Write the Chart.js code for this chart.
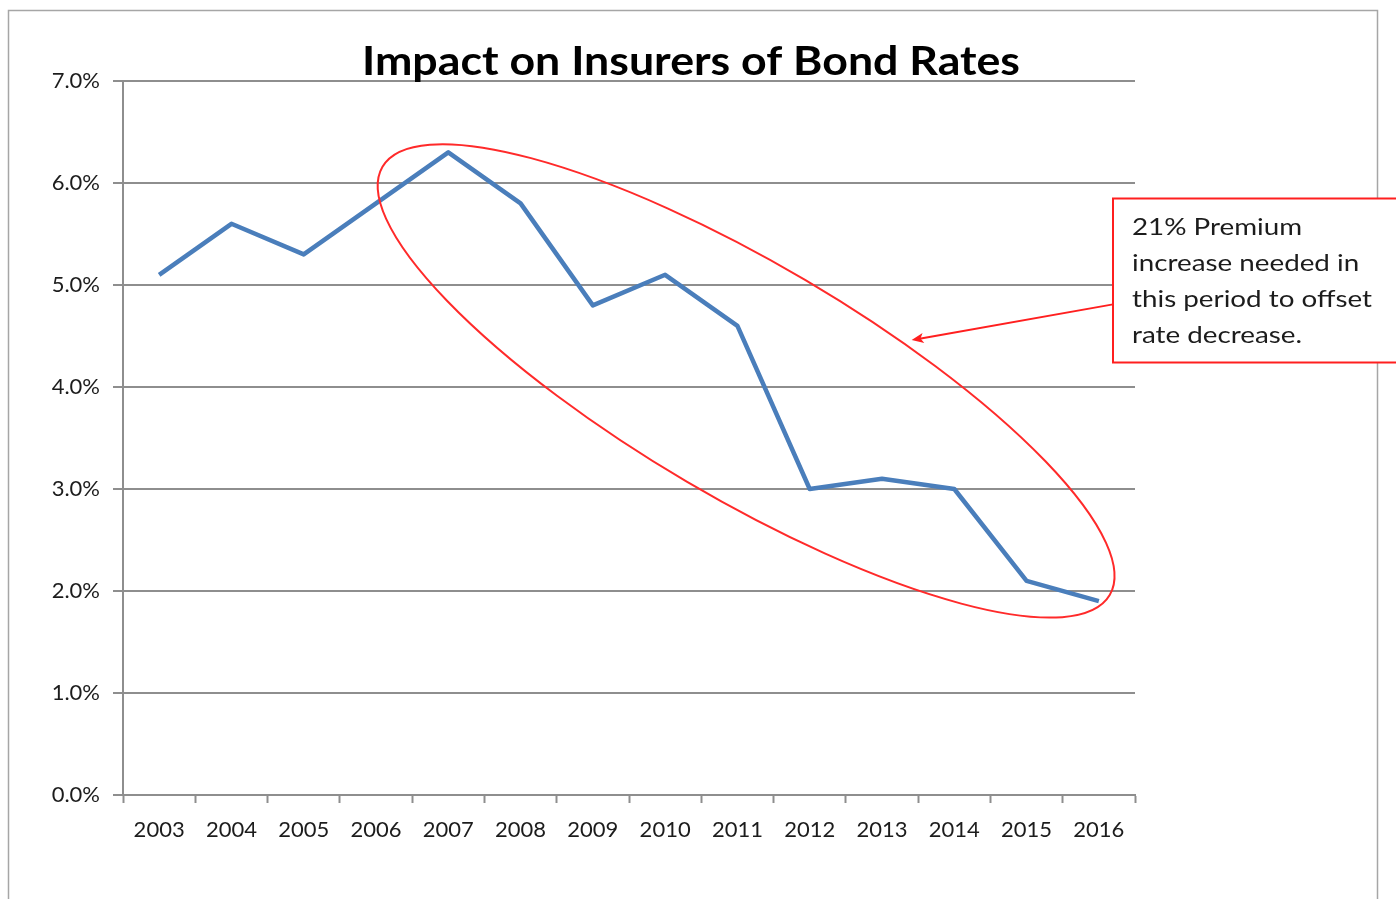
<!DOCTYPE html>
<html>
<head>
<meta charset="utf-8">
<script src="https://cdn.jsdelivr.net/npm/chart.js@4/dist/chart.umd.min.js"></script>
<style>
  html, body { margin: 0; padding: 0; background: #fff; }
  canvas { display: block; }
</style>
</head>
<body>
<canvas id="bondChart" width="1396" height="899"></canvas>
<script>
// chart data
const years = ['2003', '2004', '2005', '2006', '2007', '2008', '2009', '2010', '2011', '2012', '2013', '2014', '2015', '2016'];
const bondRates = [5.1, 5.6, 5.3, 5.8, 6.3, 5.8, 4.8, 5.1, 4.6, 3.0, 3.1, 3.0, 2.1, 1.9];
const yMin = 0;
const yMax = 7;
const yStep = 1;

const chartTitle = 'Impact on Insurers of Bond Rates';
const calloutLines = ['21% Premium', 'increase needed in', 'this period to offset', 'rate decrease.'];

// annotation anchors, in data units (category index, percent)
const ellipseCenter = { x: 8.12, y: 4.06 };
const arrowTip = { x: 10.41, y: 4.46 };
const arrowTail = { y: 4.81 };

const FONT = 'Lato, Carlito, "Open Sans", sans-serif';
const gridGray = '#8e8e8e';
const textDark = '#1c1c1c';

// draw text stretched horizontally by sx (source text looks wide)
function wideText(ctx, text, x, y, sx) {
  ctx.save();
  ctx.translate(x, y);
  ctx.scale(sx, 1);
  ctx.fillText(text, 0, 0);
  ctx.restore();
}

// Extra drawing: frame, title, ellipse, arrow, callout box
const decorPlugin = {
  id: 'decor',
  beforeDraw(chart) {
    const ctx = chart.ctx;
    ctx.save();
    ctx.strokeStyle = '#a6a6a6';
    ctx.lineWidth = 1.5;
    ctx.beginPath();
    ctx.moveTo(8.5, 905);
    ctx.lineTo(8.5, 10.5);
    ctx.lineTo(1377.5, 10.5);
    ctx.lineTo(1377.5, 905);
    ctx.stroke();
    ctx.restore();
  },
  afterDatasetsDraw(chart) {
    const ctx = chart.ctx;
    const xs = chart.scales.x;
    const ys = chart.scales.y;
    const area = chart.chartArea;

    // red ellipse round the decline
    const cx = xs.getPixelForValue(ellipseCenter.x);
    const cy = ys.getPixelForValue(ellipseCenter.y);
    ctx.save();
    ctx.strokeStyle = '#ff2a2a';
    ctx.lineWidth = 2;
    ctx.beginPath();
    ctx.ellipse(cx, cy, 422, 117, 30.5 * Math.PI / 180, 0, Math.PI * 2);
    ctx.stroke();
    ctx.restore();

    // callout box
    const boxLeft = area.right - 22;
    const boxTop = 198.5;
    const boxBottom = 362.5;
    ctx.save();
    ctx.fillStyle = '#fff';
    ctx.fillRect(boxLeft, boxTop, 400, boxBottom - boxTop);
    ctx.strokeStyle = '#ff1f1f';
    ctx.lineWidth = 2;
    ctx.strokeRect(boxLeft, boxTop, 400, boxBottom - boxTop);
    ctx.fillStyle = textDark;
    ctx.font = '24px ' + FONT;
    ctx.textBaseline = 'alphabetic';
    const widest = Math.max(...calloutLines.map(l => ctx.measureText(l).width));
    const sx = 240 / widest;
    calloutLines.forEach((line, i) => {
      wideText(ctx, line, boxLeft + 19, 235 + i * 36, sx);
    });

    // arrow from box to ellipse
    const tx = xs.getPixelForValue(arrowTip.x);
    const ty = ys.getPixelForValue(arrowTip.y);
    const sy = ys.getPixelForValue(arrowTail.y);
    const ang = Math.atan2(ty - sy, tx - boxLeft);
    ctx.strokeStyle = '#ff1f1f';
    ctx.fillStyle = '#ff1f1f';
    ctx.lineWidth = 2;
    ctx.beginPath();
    ctx.moveTo(boxLeft, sy);
    ctx.lineTo(tx + Math.cos(ang + Math.PI) * 8, ty + Math.sin(ang + Math.PI) * 8);
    ctx.stroke();
    ctx.beginPath();
    ctx.moveTo(tx, ty);
    ctx.lineTo(tx - 13 * Math.cos(ang - 0.4), ty - 13 * Math.sin(ang - 0.4));
    ctx.lineTo(tx - 9 * Math.cos(ang), ty - 9 * Math.sin(ang));
    ctx.lineTo(tx - 13 * Math.cos(ang + 0.4), ty - 13 * Math.sin(ang + 0.4));
    ctx.closePath();
    ctx.fill();
    ctx.restore();
  },
  afterDraw(chart) {
    const ctx = chart.ctx;
    ctx.save();
    ctx.fillStyle = '#000';
    ctx.font = 'bold 40px ' + FONT;
    ctx.textAlign = 'left';
    ctx.textBaseline = 'alphabetic';
    const w = ctx.measureText(chartTitle).width;
    wideText(ctx, chartTitle, 362, 75, 658 / w);
    ctx.restore();
  }
};

const ctx = document.getElementById('bondChart').getContext('2d');

new Chart(ctx, {
  type: 'line',
  data: {
    labels: years,
    datasets: [{
      label: 'Bond rate',
      data: bondRates,
      borderColor: '#4a7ebb',
      borderWidth: 4.5,
      borderJoinStyle: 'round',
      borderCapStyle: 'butt',
      pointRadius: 0,
      tension: 0,
      fill: false
    }]
  },
  options: {
    responsive: false,
    animation: false,
    devicePixelRatio: 1,
    layout: {
      padding: { left: 0, top: 81, right: 261, bottom: 0 }
    },
    plugins: {
      legend: { display: false },
      title: { display: false },
      tooltip: { enabled: false }
    },
    scales: {
      x: {
        type: 'category',
        offset: true,
        afterFit(scale) { scale.height = 104; },
        grid: {
          offset: true,
          drawOnChartArea: false,
          drawTicks: true,
          tickLength: 8,
          tickColor: gridGray,
          tickWidth: 2
        },
        border: { display: true, color: gridGray, width: 2 },
        ticks: {
          color: textDark,
          font: { family: FONT, size: 22 },
          padding: 14,
          maxRotation: 0,
          autoSkip: false
        }
      },
      y: {
        min: yMin,
        max: yMax,
        afterFit(scale) { scale.width = 123; },
        grid: {
          color: gridGray,
          lineWidth: 2,
          drawTicks: true,
          tickLength: 10,
          tickColor: gridGray
        },
        border: { display: true, color: gridGray, width: 2 },
        ticks: {
          stepSize: yStep,
          color: textDark,
          font: { family: FONT, size: 22 },
          padding: 13,
          callback: v => v.toFixed(1) + '%'
        }
      }
    }
  },
  plugins: [decorPlugin]
});
</script>
</body>
</html>
